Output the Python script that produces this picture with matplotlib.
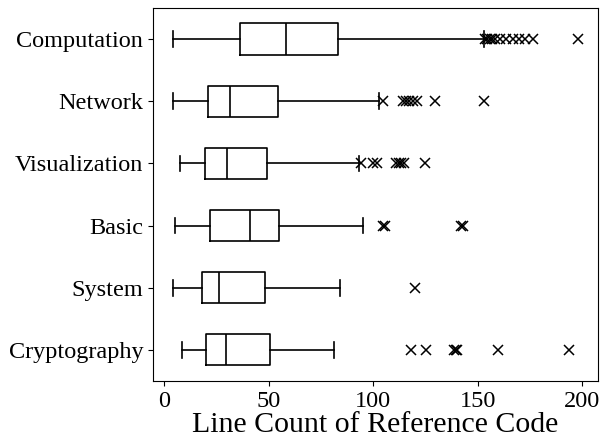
import matplotlib.pyplot as plt

plt.rcParams['font.family'] = ['Liberation Serif', 'DejaVu Serif']

categories = ['Computation', 'Network', 'Visualization', 'Basic', 'System', 'Cryptography']
whislo = [4.3, 4.3, 7.4, 5.2, 4.3, 8.4]
q1 = [36.0, 21.0, 19.4, 22.1, 18.2, 20.1]
med = [58.2, 31.3, 30.2, 41.1, 26.2, 29.3]
q3 = [83.2, 54.2, 49.2, 54.7, 48.4, 50.4]
whishi = [152.9, 102.8, 93.0, 94.9, 84.1, 81.0]
fliers = [
    [153.6, 154.6, 155.6, 156.8, 158.2, 160.5, 163.5, 166.6, 169.6, 172.6, 176.2, 197.7],
    [104.8, 114.0, 115.6, 117.2, 118.8, 120.8, 129.7, 152.9],
    [94.1, 100.0, 102.0, 110.7, 112.2, 113.2, 114.6, 124.9],
    [104.6, 105.5, 141.9, 142.8],
    [119.9],
    [118.0, 125.1, 138.7, 139.4, 140.0, 159.7, 193.7],
]

stats = []
for i, name in enumerate(categories):
    stats.append(dict(label=name, whislo=whislo[i], q1=q1[i], med=med[i],
                      q3=q3[i], whishi=whishi[i], fliers=fliers[i]))

# reversed so Computation sits on top
stats = stats[::-1]

fig, ax = plt.subplots(figsize=(6.05, 4.42), dpi=100)
ax.bxp(stats, orientation='horizontal', widths=0.5,
       boxprops=dict(color='black', linewidth=1.2),
       whiskerprops=dict(color='black', linewidth=1.2),
       capprops=dict(color='black', linewidth=1.2),
       medianprops=dict(color='black', linewidth=1.2),
       flierprops=dict(marker='x', markeredgecolor='black', markersize=7,
                       markeredgewidth=1.1))

ax.set_xticks([0, 50, 100, 150, 200])
ax.tick_params(axis='both', labelsize=17.5)
ax.set_xlabel('Line Count of Reference Code', fontsize=21.5, labelpad=0)

fig.subplots_adjust(left=0.253, right=0.988, top=0.982, bottom=0.138)
plt.savefig('out.png')
